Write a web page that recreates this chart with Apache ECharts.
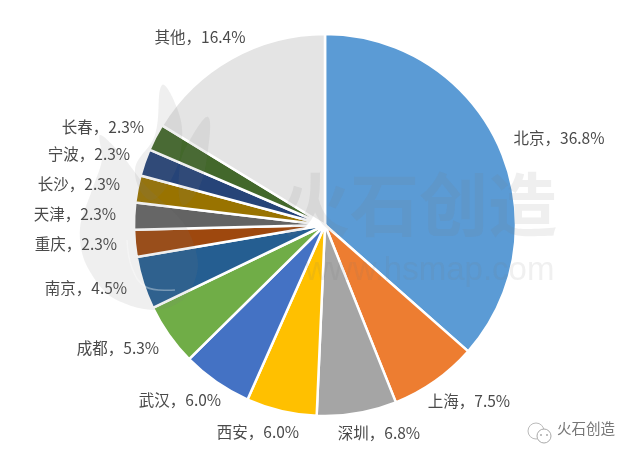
<!DOCTYPE html>
<html>
<head>
<meta charset="utf-8">
<style>html,body{margin:0;padding:0;background:#fff}#chart{width:640px;height:461px}</style>
<script src="https://cdn.jsdelivr.net/npm/echarts@6/dist/echarts.min.js"></script>
</head>
<body>
<div id="chart"></div>
<script>
const cities = ['北京','上海','深圳','西安','武汉','成都','南京','重庆','天津','长沙','宁波','长春','其他'];
const shares = [36.8,7.5,6.8,6.0,6.0,5.3,4.5,2.3,2.3,2.3,2.3,2.3,16.4];
const colors = ['#5b9bd5','#ed7d31','#a5a5a5','#ffc000','#4472c4','#70ad47','#255e91','#9e480e','#636363','#997300','#264478','#43682b','#e4e4e4'];
// 标签中心位置，按 cities 顺序
const labelX = [559,469,379,258,180,118,86,76,75,79,89,103,200];
const labelY = [138,401,433,432,400,348,288,244,214,184,154,127,37];

const chart = echarts.init(document.getElementById('chart'));
const font = '"Noto Sans CJK SC","Noto Sans",sans-serif';
const mark = 'rgba(120,120,120,0.12)';
chart.setOption({
  backgroundColor:'#fff',
  animation:false,
  graphic:[
    // 水印 火焰
    {type:'polygon',z:100,silent:true,shape:{smooth:0.4,points:[[162,85],[177,108],[182,140],[172,178],[150,200],[135,170],[155,135]]},style:{fill:mark}},
    {type:'polygon',z:100,silent:true,shape:{smooth:0.4,points:[[208,117],[208,150],[198,190],[182,205],[180,165],[190,140]]},style:{fill:mark}},
    {type:'polygon',z:100,silent:true,shape:{smooth:0.3,points:[[100,135],[120,153],[145,185],[185,225],[198,265],[185,298],[153,310],[110,296],[85,262],[80,228],[92,190],[102,160]]},style:{fill:mark}},
    {type:'polyline',z:101,silent:true,shape:{smooth:0.4,points:[[127,240],[132,268],[146,287],[175,290]]},style:{stroke:'rgba(255,255,255,0.35)',fill:'none',lineWidth:1.5}},
    // 水印 文字
    {type:'text',z:100,left:281,top:170,silent:true,style:{text:'火石创造',font:'bold 69px '+font,fill:mark}},
    {type:'text',z:100,left:305,top:254,silent:true,style:{text:'www.hsmap.com',font:'33px "Liberation Sans",sans-serif',fill:'rgba(120,120,120,0.11)'}},
    // 公众号角标
    {type:'circle',shape:{cx:536,cy:431,r:8},style:{fill:'#fff',stroke:'#bbb',lineWidth:1}},
    {type:'circle',shape:{cx:544,cy:436,r:7},style:{fill:'#fff',stroke:'#aaa',lineWidth:1}},
    {type:'circle',shape:{cx:541,cy:435,r:1},style:{fill:'#aaa'}},
    {type:'circle',shape:{cx:547,cy:435,r:1},style:{fill:'#aaa'}},
    {type:'text',left:557,top:421,style:{text:'火石创造',font:'14.5px '+font,fill:'#777'}}
  ],
  series:[{
    type:'pie',
    center:[325,225],
    radius:[0,191],
    startAngle:90,
    clockwise:true,
    color:colors,
    itemStyle:{borderColor:'#fff',borderWidth:2.5},
    label:{
      show:true,
      position:'outside',
      overflow:'none',
      formatter:p=>p.name+'，'+p.value.toFixed(1)+'%',
      fontFamily:font,
      fontSize:15.5,
      color:'#4a4a4a'
    },
    labelLine:{show:false},
    labelLayout:p=>({x:labelX[p.dataIndex],y:labelY[p.dataIndex],align:'center',verticalAlign:'middle'}),
    data:cities.map((c,i)=>({name:c,value:shares[i]}))
  }]
});
</script>
</body>
</html>
